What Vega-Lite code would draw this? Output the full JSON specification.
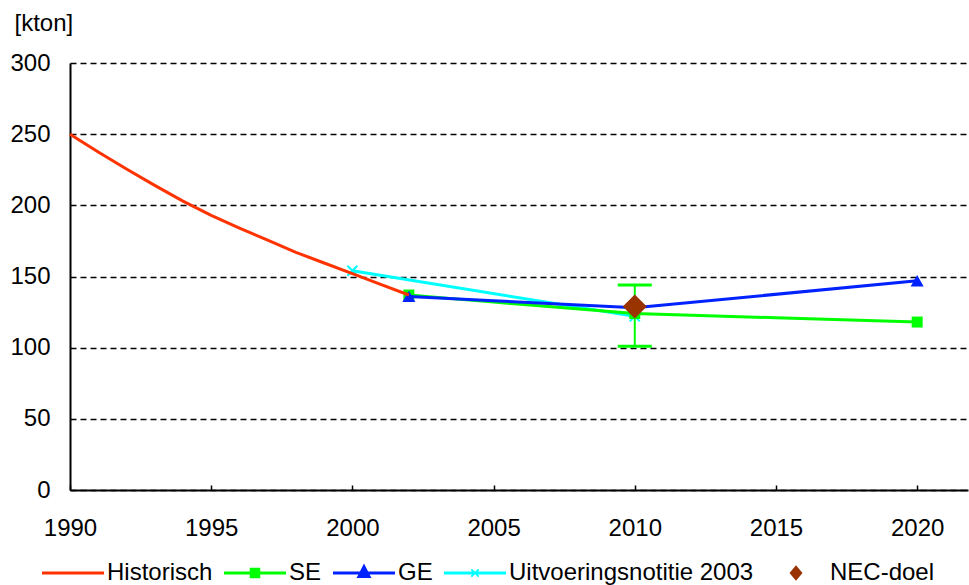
{
  "$schema": "https://vega.github.io/schema/vega-lite/v6.json",
  "width": 898,
  "height": 427,
  "autosize": "none",
  "padding": {"left": 70, "top": 63, "right": 1, "bottom": 95},
  "background": "white",
  "config": {
    "view": {"stroke": null},
    "font": "Liberation Sans",
    "axis": {"labelFont": "Liberation Sans", "titleFont": "Liberation Sans", "labelColor": "#000", "titleColor": "#000"},
    "legend": {"labelFont": "Liberation Sans"}
  },
  "datasets": {
    "series": [
      {"series": "Historisch", "year": 1990, "value": 250},
      {"series": "Historisch", "year": 1991, "value": 237.5},
      {"series": "Historisch", "year": 1992, "value": 225.5},
      {"series": "Historisch", "year": 1993, "value": 214},
      {"series": "Historisch", "year": 1994, "value": 203},
      {"series": "Historisch", "year": 1995, "value": 193},
      {"series": "Historisch", "year": 1996, "value": 184},
      {"series": "Historisch", "year": 1997, "value": 175.5},
      {"series": "Historisch", "year": 1998, "value": 167},
      {"series": "Historisch", "year": 1999, "value": 159.5},
      {"series": "Historisch", "year": 2000, "value": 152},
      {"series": "Historisch", "year": 2001, "value": 144.5},
      {"series": "Historisch", "year": 2002, "value": 137},
      {"series": "SE", "year": 2002, "value": 137},
      {"series": "SE", "year": 2005, "value": 132},
      {"series": "SE", "year": 2010, "value": 124},
      {"series": "SE", "year": 2015, "value": 121},
      {"series": "SE", "year": 2020, "value": 118},
      {"series": "GE", "year": 2002, "value": 136},
      {"series": "GE", "year": 2005, "value": 133},
      {"series": "GE", "year": 2010, "value": 128},
      {"series": "GE", "year": 2020, "value": 147},
      {"series": "Uitvoeringsnotitie 2003", "year": 2000, "value": 154},
      {"series": "Uitvoeringsnotitie 2003", "year": 2010, "value": 122},
      {"series": "NEC-doel", "year": 2010, "value": 129}
    ],
    "errorbar": [
      {"year": 2010, "low": 101, "high": 144}
    ]
  },
  "layer": [
    {
      "data": {"name": "series"},
      "transform": [{"filter": "datum.series !== 'NEC-doel'"}],
      "mark": {"type": "point", "opacity": 0},
      "encoding": {
        "x": {"field": "year", "type": "quantitative",
          "scale": {"domain": [1990, 2021.8], "nice": false, "zero": false},
          "axis": {"title": null, "values": [1990, 1995, 2000, 2005, 2010, 2015, 2020], "format": "d",
            "grid": false, "labelFontSize": 24, "labelPadding": 31, "tickSize": -5, "tickColor": "#000", "tickWidth": 1.5,
            "domainColor": "#000", "domainWidth": 2, "labelFlush": false}},
        "y": {"field": "value", "type": "quantitative",
          "scale": {"domain": [0, 300], "nice": false},
          "axis": {"title": "[kton]", "titleAngle": 0, "titleAlign": "left", "titleBaseline": "top", "titleX": -56, "titleY": -52,
            "titleFontSize": 24, "titleFontWeight": "normal",
            "values": [0, 50, 100, 150, 200, 250, 300], "labelFontSize": 24, "labelPadding": 20, "ticks": false,
            "domainColor": "#000", "domainWidth": 2,
            "grid": true, "gridColor": "#000", "gridDash": [6, 4], "gridWidth": 1.5}}
      }
    },
    {
      "data": {"name": "series"},
      "transform": [{"filter": "datum.series === 'Uitvoeringsnotitie 2003'"}],
      "mark": {"type": "line", "color": "#00FFFF", "strokeWidth": 3},
      "encoding": {"x": {"field": "year", "type": "quantitative"}, "y": {"field": "value", "type": "quantitative"}}
    },
    {
      "data": {"name": "series"},
      "transform": [{"filter": "datum.series === 'Uitvoeringsnotitie 2003'"}],
      "mark": {"type": "point", "shape": "M-1,-1L1,1M-1,1L1,-1", "filled": false, "stroke": "#00FFFF", "strokeWidth": 2, "size": 100, "opacity": 1},
      "encoding": {"x": {"field": "year", "type": "quantitative"}, "y": {"field": "value", "type": "quantitative"}}
    },
    {
      "data": {"name": "series"},
      "transform": [{"filter": "datum.series === 'SE'"}],
      "mark": {"type": "line", "color": "#00FF00", "strokeWidth": 3},
      "encoding": {"x": {"field": "year", "type": "quantitative"}, "y": {"field": "value", "type": "quantitative"}}
    },
    {
      "data": {"name": "series"},
      "transform": [{"filter": "datum.series === 'SE' && (datum.year === 2002 || datum.year === 2010 || datum.year === 2020)"}],
      "mark": {"type": "point", "shape": "square", "filled": true, "color": "#00FF00", "size": 121, "opacity": 1},
      "encoding": {"x": {"field": "year", "type": "quantitative"}, "y": {"field": "value", "type": "quantitative"}}
    },
    {
      "data": {"name": "series"},
      "transform": [{"filter": "datum.series === 'GE'"}],
      "mark": {"type": "line", "color": "#0022FF", "strokeWidth": 3},
      "encoding": {"x": {"field": "year", "type": "quantitative"}, "y": {"field": "value", "type": "quantitative"}}
    },
    {
      "data": {"name": "series"},
      "transform": [{"filter": "datum.series === 'GE' && (datum.year === 2002 || datum.year === 2020)"}],
      "mark": {"type": "point", "shape": "triangle-up", "filled": true, "color": "#0022FF", "size": 170, "opacity": 1},
      "encoding": {"x": {"field": "year", "type": "quantitative"}, "y": {"field": "value", "type": "quantitative"}}
    },
    {
      "data": {"name": "series"},
      "transform": [{"filter": "datum.series === 'Historisch'"}],
      "mark": {"type": "line", "color": "#FF3300", "strokeWidth": 3},
      "encoding": {"x": {"field": "year", "type": "quantitative"}, "y": {"field": "value", "type": "quantitative"}}
    },
    {
      "data": {"name": "errorbar"},
      "mark": {"type": "rule", "color": "#00FF00", "strokeWidth": 2},
      "encoding": {"x": {"field": "year", "type": "quantitative"}, "y": {"field": "low", "type": "quantitative"}, "y2": {"field": "high"}}
    },
    {
      "data": {"name": "errorbar"},
      "mark": {"type": "tick", "orient": "horizontal", "color": "#00FF00", "size": 34, "thickness": 3, "opacity": 1},
      "encoding": {"x": {"field": "year", "type": "quantitative"}, "y": {"field": "low", "type": "quantitative"}}
    },
    {
      "data": {"name": "errorbar"},
      "mark": {"type": "tick", "orient": "horizontal", "color": "#00FF00", "size": 34, "thickness": 3, "opacity": 1},
      "encoding": {"x": {"field": "year", "type": "quantitative"}, "y": {"field": "high", "type": "quantitative"}}
    },
    {
      "data": {"name": "series"},
      "transform": [{"filter": "datum.series === 'NEC-doel'"}],
      "mark": {"type": "point", "shape": "diamond", "filled": true, "color": "#993300", "size": 576, "opacity": 1},
      "encoding": {"x": {"field": "year", "type": "quantitative"}, "y": {"field": "value", "type": "quantitative"}}
    },
    {
      "data": {"name": "series"},
      "mark": {"type": "point", "filled": true, "opacity": 0},
      "encoding": {
        "x": {"field": "year", "type": "quantitative"},
        "y": {"field": "value", "type": "quantitative"},
        "color": {"field": "series", "type": "nominal",
          "scale": {"domain": ["Historisch", "SE", "GE", "Uitvoeringsnotitie 2003", "NEC-doel"],
                    "range": ["#FF3300", "#00FF00", "#0022FF", "#00FFFF", "#993300"]},
          "legend": {"title": null, "orient": "none", "direction": "horizontal", "legendX": -28, "legendY": 479,
            "symbolSize": 3844, "symbolOpacity": 1, "symbolStrokeWidth": 0, "labelFontSize": 24, "labelColor": "#000",
            "labelOffset": 3, "columnPadding": 11, "padding": 0, "labelLimit": 400}},
        "shape": {"field": "series", "type": "nominal",
          "scale": {"domain": ["Historisch", "SE", "GE", "Uitvoeringsnotitie 2003", "NEC-doel"],
                    "range": [
                      "M-1,-0.05H1V0.05H-1Z",
                      "M-1,-0.05H1V0.05H-1Z M-0.17,-0.17H0.17V0.17H-0.17Z",
                      "M-1,-0.05H1V0.05H-1Z M0,-0.31L0.24,0.16H-0.24Z",
                      "M-1,-0.05H1V0.05H-1Z M-0.14,-0.1L-0.1,-0.14L0.14,0.1L0.1,0.14Z M0.1,-0.14L0.14,-0.1L-0.1,0.14L-0.14,0.1Z",
                      "M0,-0.25L0.21,0L0,0.25L-0.21,0Z"
                    ]},
          "legend": {"title": null, "orient": "none", "direction": "horizontal", "legendX": -28, "legendY": 479,
            "symbolSize": 3844, "symbolOpacity": 1, "symbolStrokeWidth": 0, "labelFontSize": 24, "labelColor": "#000",
            "labelOffset": 3, "columnPadding": 11, "padding": 0, "labelLimit": 400}}
      }
    }
  ]
}
